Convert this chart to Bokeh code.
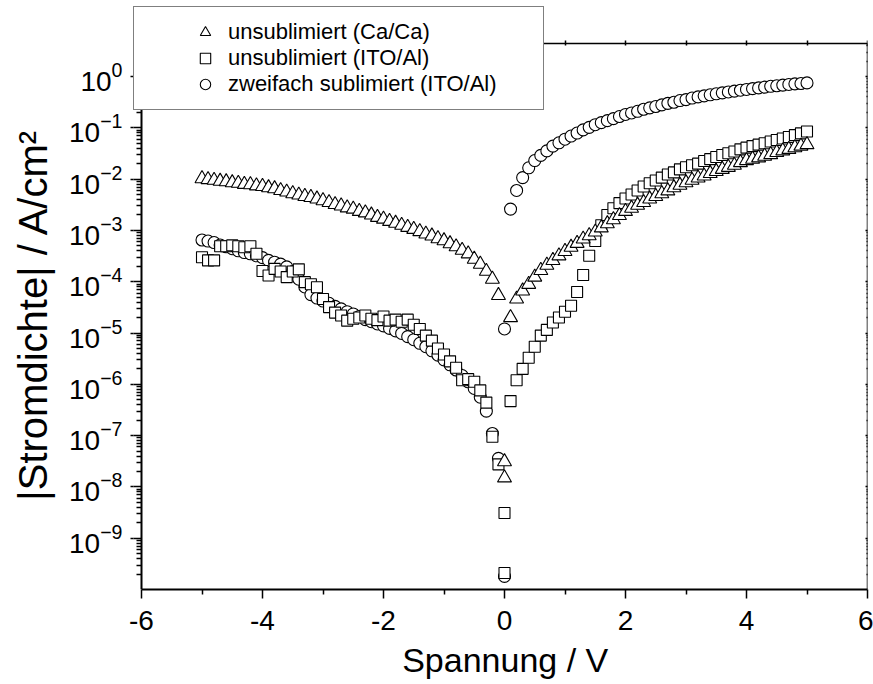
import math
from bokeh.plotting import figure
from bokeh.models import (Range1d, FixedTicker, LogAxis, LinearAxis, Legend,
                          LegendItem, ColumnDataSource, CustomJSTickFormatter)
from bokeh.embed import file_html
from bokeh.resources import INLINE

# ---------------- data ----------------
voltage_neg = [-5.0, -4.9, -4.8, -4.7, -4.6, -4.5, -4.4, -4.3, -4.2, -4.1,
               -4.0, -3.9, -3.8, -3.7, -3.6, -3.5, -3.4, -3.3, -3.2, -3.1,
               -3.0, -2.9, -2.8, -2.7, -2.6, -2.5, -2.4, -2.3, -2.2, -2.1,
               -2.0, -1.9, -1.8, -1.7, -1.6, -1.5, -1.4, -1.3, -1.2, -1.1,
               -1.0, -0.9, -0.8, -0.7, -0.6, -0.5, -0.4, -0.3, -0.2, -0.1, 0.0]
voltage_pos = [0.0, 0.1, 0.2, 0.3, 0.4, 0.5, 0.6, 0.7, 0.8, 0.9,
               1.0, 1.1, 1.2, 1.3, 1.4, 1.5, 1.6, 1.7, 1.8, 1.9,
               2.0, 2.1, 2.2, 2.3, 2.4, 2.5, 2.6, 2.7, 2.8, 2.9,
               3.0, 3.1, 3.2, 3.3, 3.4, 3.5, 3.6, 3.7, 3.8, 3.9,
               4.0, 4.1, 4.2, 4.3, 4.4, 4.5, 4.6, 4.7, 4.8, 4.9, 5.0]

# unsublimiert (Ca/Ca) -- triangles
cac_neg = [1.02e-2, 9.8e-3, 9.5e-3, 9.1e-3, 8.9e-3, 8.5e-3, 8.3e-3, 7.9e-3, 7.8e-3, 7.4e-3,
           7.2e-3, 6.8e-3, 6.5e-3, 6.0e-3, 5.6e-3, 5.2e-3, 4.9e-3, 4.6e-3, 4.4e-3, 4.1e-3,
           3.8e-3, 3.5e-3, 3.2e-3, 3.0e-3, 2.75e-3, 2.6e-3, 2.35e-3, 2.2e-3, 2.0e-3, 1.8e-3,
           1.66e-3, 1.5e-3, 1.38e-3, 1.26e-3, 1.15e-3, 1.05e-3, 9.5e-4, 8.5e-4, 7.8e-4, 6.9e-4,
           6.3e-4, 5.5e-4, 4.8e-4, 4.1e-4, 3.5e-4, 2.75e-4, 2.2e-4, 1.6e-4, 1.12e-4, 5.4e-5, 3.1e-8]
cac_pos = [1.5e-8, 2.0e-5, 4.6e-5, 6.6e-5, 8.9e-5, 1.23e-4, 1.66e-4, 2.1e-4, 2.6e-4, 3.2e-4,
           3.9e-4, 4.7e-4, 5.6e-4, 6.8e-4, 7.9e-4, 9.3e-4, 1.12e-3, 1.35e-3, 1.62e-3, 1.95e-3,
           2.35e-3, 2.7e-3, 3.1e-3, 3.5e-3, 4.1e-3, 4.6e-3, 5.2e-3, 5.9e-3, 6.8e-3, 7.6e-3,
           8.5e-3, 9.5e-3, 1.05e-2, 1.15e-2, 1.29e-2, 1.41e-2, 1.55e-2, 1.7e-2, 1.86e-2, 2.1e-2,
           2.3e-2, 2.45e-2, 2.6e-2, 2.8e-2, 3.0e-2, 3.3e-2, 3.55e-2, 3.8e-2, 4.1e-2, 4.4e-2, 4.7e-2]

# unsublimiert (ITO/Al) -- squares
ito_neg = [3.0e-4, 2.6e-4, 2.6e-4, 4.9e-4, 4.9e-4, 5.1e-4, 4.9e-4, 4.7e-4, 4.9e-4, 3.5e-4,
           1.62e-4, 1.32e-4, 1.78e-4, 1.58e-4, 1.23e-4, 1.58e-4, 1.74e-4, 9.8e-5, 8.9e-5, 7.8e-5,
           4.6e-5, 3.2e-5, 2.5e-5, 2.2e-5, 1.74e-5, 1.9e-5, 2.0e-5, 2.2e-5, 1.9e-5, 1.78e-5,
           2.1e-5, 1.74e-5, 1.82e-5, 1.66e-5, 1.82e-5, 1.45e-5, 1.2e-5, 8.9e-6, 7.1e-6, 5.0e-6,
           3.8e-6, 2.8e-6, 2.1e-6, 1.2e-6, 1.26e-6, 1.12e-6, 7.6e-7, 4.4e-7, 9.5e-8, 2.75e-8, 3.1e-9]
ito_pos = [2.1e-10, 4.7e-7, 1.2e-6, 2.0e-6, 3.3e-6, 5.4e-6, 8.9e-6, 1.15e-5, 1.6e-5, 2.0e-5,
           2.6e-5, 3.4e-5, 6.3e-5, 1.35e-4, 3.2e-4, 6.2e-4, 1.26e-3, 2.0e-3, 2.7e-3, 3.4e-3,
           4.2e-3, 5.0e-3, 6.0e-3, 7.2e-3, 8.3e-3, 9.4e-3, 1.07e-2, 1.23e-2, 1.35e-2, 1.55e-2,
           1.7e-2, 1.86e-2, 2.0e-2, 2.25e-2, 2.45e-2, 2.7e-2, 2.95e-2, 3.2e-2, 3.45e-2, 3.8e-2,
           4.1e-2, 4.4e-2, 4.7e-2, 5.0e-2, 5.4e-2, 5.8e-2, 6.2e-2, 6.6e-2, 7.2e-2, 7.8e-2, 8.5e-2]

# zweifach sublimiert (ITO/Al) -- circles
sub_neg = [6.5e-4, 6.2e-4, 5.8e-4, 5.2e-4, 4.8e-4, 4.4e-4, 4.0e-4, 3.7e-4, 3.5e-4, 3.2e-4,
           2.95e-4, 2.6e-4, 2.4e-4, 2.2e-4, 1.95e-4, 1.58e-4, 1.12e-4, 7.9e-5, 5.6e-5, 4.8e-5,
           4.2e-5, 3.8e-5, 3.3e-5, 2.95e-5, 2.6e-5, 2.35e-5, 2.1e-5, 1.82e-5, 1.66e-5, 1.5e-5,
           1.38e-5, 1.23e-5, 1.1e-5, 9.8e-6, 8.5e-6, 7.4e-6, 6.3e-6, 5.4e-6, 4.5e-6, 3.7e-6,
           3.0e-6, 2.4e-6, 1.9e-6, 1.48e-6, 1.12e-6, 8.3e-7, 5.6e-7, 3.0e-7, 1.1e-7, 3.6e-8, 1.8e-10]
sub_pos = [1.2e-5, 2.6e-3, 6.0e-3, 1.07e-2, 1.66e-2, 2.3e-2, 2.9e-2, 3.55e-2, 4.4e-2, 5.1e-2,
           6.0e-2, 6.9e-2, 7.9e-2, 9.1e-2, 1.02e-1, 1.15e-1, 1.26e-1, 1.38e-1, 1.51e-1, 1.66e-1,
           1.82e-1, 1.95e-1, 2.1e-1, 2.3e-1, 2.45e-1, 2.6e-1, 2.8e-1, 3.0e-1, 3.15e-1, 3.4e-1,
           3.55e-1, 3.8e-1, 4.0e-1, 4.2e-1, 4.4e-1, 4.6e-1, 4.8e-1, 5.0e-1, 5.2e-1, 5.4e-1,
           5.6e-1, 5.8e-1, 6.0e-1, 6.2e-1, 6.45e-1, 6.6e-1, 6.8e-1, 7.0e-1, 7.2e-1, 7.3e-1, 7.5e-1]

series_labels = ["unsublimiert (Ca/Ca)", "unsublimiert (ITO/Al)", "zweifach sublimiert (ITO/Al)"]
x_title = "Spannung / V"
y_title = "|Stromdichte| / A/cm\u00b2"
x_major = [-6, -4, -2, 0, 2, 4, 6]
x_minor = [-5, -3, -1, 1, 3, 5]
x_labels = ["-6", "-4", "-2", "0", "2", "4", "6"]
y_major_exp = [-9, -8, -7, -6, -5, -4, -3, -2, -1, 0]
x_lo, x_hi = -6, 6
y_lo, y_hi = 1e-10, 4.4

# ---------------- layout geometry (pixels) ----------------
W, H = 873, 684
FRAME_L, FRAME_T, FRAME_R, FRAME_B = 133, 6, 867, 589   # frame also hosts the legend box
AX_L, AX_T = 141, 43                                     # where the drawn axes sit
px_per_x = (FRAME_R - AX_L) / (x_hi - x_lo)
px_per_dec = (FRAME_B - AX_T) / (math.log10(y_hi) - math.log10(y_lo))
x_start = x_lo - (AX_L - FRAME_L) / px_per_x
y_end = 10 ** (math.log10(y_hi) + (AX_T - FRAME_T) / px_per_dec)
NB = "\u00a0"   # non-breaking spaces re-centre the titles on the drawn axes

FONT = "Liberation Sans"
p = figure(width=W, height=H, x_range=Range1d(x_start, x_hi), y_range=Range1d(y_lo, y_end),
           y_axis_type="log", output_backend="svg", toolbar_location=None,
           min_border_left=FRAME_L, min_border_right=W - FRAME_R,
           min_border_top=FRAME_T, min_border_bottom=H - FRAME_B)
p.grid.visible = False
p.outline_line_color = None
p.background_fill_color = "white"
p.border_fill_color = "white"

def src(xn, yn, xp, yp):
    return ColumnDataSource(dict(x=list(xn) + list(xp), y=list(yn) + list(yp)))

mk = dict(fill_color="white", line_color="black", line_width=1.1)
r_sub = p.scatter("x", "y", source=src(voltage_neg, sub_neg, voltage_pos, sub_pos),
                  marker="circle", size=12, **mk)
r_ito = p.scatter("x", "y", source=src(voltage_neg, ito_neg, voltage_pos, ito_pos),
                  marker="square", size=11, **mk)
r_cac = p.scatter("x", "y", source=src(voltage_neg, cac_neg, voltage_pos, cac_pos),
                  marker="triangle", size=14, **mk)

# ---------------- axes ----------------
y_ticks = [10.0 ** e for e in y_major_exp]
y_minor = [k * 10.0 ** e for e in range(-10, 1) for k in range(2, 10) if k * 10.0 ** e <= y_hi]
xt = FixedTicker(ticks=x_major, minor_ticks=x_minor)
yt = FixedTicker(ticks=y_ticks, minor_ticks=y_minor)
yt_major = FixedTicker(ticks=y_ticks, minor_ticks=[])

def style(ax, maj_out, min_out, maj_in=0, min_in=0, lw=2):
    ax.axis_line_color = "black"
    ax.axis_line_width = lw
    ax.major_tick_line_color = "black"
    ax.minor_tick_line_color = "black"
    ax.major_tick_line_width = 1.5
    ax.minor_tick_line_width = 1.5
    ax.major_tick_out = maj_out
    ax.major_tick_in = maj_in
    ax.minor_tick_out = min_out
    ax.minor_tick_in = min_in
    ax.major_label_text_font = FONT
    ax.major_label_text_color = "black"
    ax.axis_label_text_font = FONT
    ax.axis_label_text_font_style = "normal"
    ax.axis_label_text_color = "black"

def blank():
    return CustomJSTickFormatter(code="return ''")

# bottom axis (labels + title)
xb = p.xaxis[0]
xb.ticker = xt
xb.bounds = (x_lo, x_hi)
style(xb, 9, 5)
xb.major_label_overrides = dict(zip(x_major, x_labels))
xb.major_label_text_font_size = "28px"
xb.major_label_standoff = 12
xb.axis_label = NB + x_title
xb.axis_label_text_font_size = "34px"
xb.axis_label_standoff = 8

# left axis line + ticks, sitting at x = -6
yl = p.yaxis[0]
yl.ticker = yt
yl.bounds = (y_lo, y_hi)
yl.fixed_location = x_lo
yl.formatter = blank()
yl.major_label_text_font_size = "1px"
yl.major_label_standoff = 0
style(yl, 10, 5)

# left axis labels + title, in the side panel
ylab = LogAxis(ticker=yt_major)
style(ylab, 3, 0)
ylab.axis_line_color = None
ylab.minor_tick_line_color = None
ylab.major_label_text_font_size = "28px"
ylab.major_label_standoff = 8
ylab.axis_label = y_title + NB * 3
ylab.axis_label_text_font_size = "40px"
ylab.axis_label_standoff = 11
p.add_layout(ylab, "left")

# top and right frame axes (ticks only)
xt_top = LinearAxis(ticker=xt, formatter=blank(),
                    major_label_standoff=0, major_label_text_font_size="1px",
                    bounds=(x_lo, x_hi), fixed_location=y_hi)
style(xt_top, 3, 3, 2, 2, lw=1.5)
p.add_layout(xt_top, "above")

yr = LogAxis(ticker=yt, formatter=blank(),
             major_label_standoff=0, major_label_text_font_size="1px",
             bounds=(y_lo, y_hi), fixed_location=x_hi)
style(yr, 3, 2, 2, 1, lw=1.5)
p.add_layout(yr, "right")

# ---------------- legend ----------------
legend = Legend(items=[LegendItem(label=series_labels[0], renderers=[r_cac]),
                       LegendItem(label=series_labels[1], renderers=[r_ito]),
                       LegendItem(label=series_labels[2], renderers=[r_sub])],
                location=(0, FRAME_B - 110), padding=12, spacing=0, margin=0,
                glyph_height=26, glyph_width=26, label_standoff=10,
                label_width=303, label_height=26,
                label_text_font=FONT, label_text_font_size="22px", label_text_color="black",
                border_line_color="black", border_line_width=1.5,
                background_fill_color="white", background_fill_alpha=1.0)
if "title_location" in Legend.properties():
    legend.title = NB
    legend.title_location = "left"
    legend.title_text_font_size = "10px"
    legend.title_standoff = 35
p.add_layout(legend)

open("out.html", "w").write(file_html(p, INLINE))
